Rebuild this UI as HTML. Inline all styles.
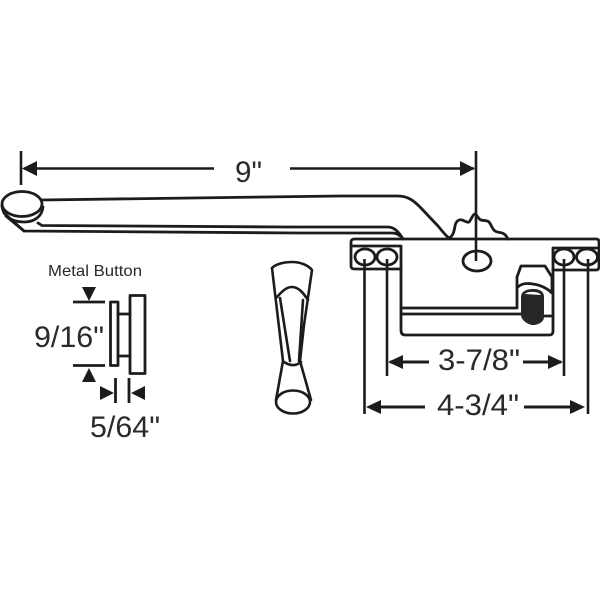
<!DOCTYPE html>
<html><head><meta charset="utf-8"><style>html,body{margin:0;padding:0;background:#fff}svg{display:block}text{font-family:"Liberation Sans",sans-serif;fill:#2a2a2a}</style></head>
<body>
<svg width="600" height="600" viewBox="0 0 600 600" fill="none" stroke="#1c1c1c" stroke-width="2.8" stroke-linecap="round" stroke-linejoin="round">
<!-- 9in dimension -->
<path d="M21 151V185M476 151V261M24 168.5H214M290 168.5H474" stroke-width="2.600" stroke-linecap="butt"/>
<path d="M22 168.5L37 161V176Z M475 168.5L460 161V176Z" fill="#1c1c1c" stroke="none"/>
<text x="235" y="182" font-size="30" stroke="none" textLength="27" lengthAdjust="spacingAndGlyphs">9"</text>
<!-- arm -->
<path d="M41 200L340 196H398C408 196 414 201 420 207L438 226C443 232 446 236 449 238"/>
<path d="M38 223L42 225.500L288 227H388C394 227 399 232 403 239" />
<path d="M6 216L24 231L300 233H392C398 233 401 236 403 239"/>
<!-- button -->
<ellipse cx="22" cy="204" rx="20" ry="12.500" fill="#fff"/>
<path d="M2 206C3 215 10 222 24 222C35 222 42 216 43 207"/>
<path d="M2 206L4 213L24 231"/>
<!-- gear -->
<path d="M449 238C453 236 454 232 455 226C456 221 459 219 462 220C465 221 467 223 469 222C471 220 473 214 475 214C477 214 478 219 481 220C484 221 487 220 489 222C491 224 492 229 495 231C498 233 502 232 504 234C506 235 507 237 508 239"/>
<!-- plate -->
<path d="M355 239H596C598 239 599 240 599 242V266C599 269 598 270 596 270H553V330C553 334 552 335 549 335H405C402 335 401 333 401 330V269H355C352 269 351 268 351 266V242C351 240 352 239 355 239Z" stroke-width="2.800"/>
<path d="M352 246H401V269M553 248H598M553 248V270"/>
<ellipse cx="365" cy="257" rx="10" ry="8"/>
<ellipse cx="387" cy="257" rx="10" ry="8"/>
<ellipse cx="564" cy="257" rx="10" ry="8"/>
<ellipse cx="587" cy="257" rx="10.500" ry="8"/>
<ellipse cx="477" cy="261" rx="14" ry="10"/>
<!-- inner slot -->
<path d="M401 308H517V277L521 266H545L552 277V290M401 314H522M517 288C521 283 527 283 533 284C541 285 548 289 552 293M544 316H553"/>
<path d="M521 297C521 291 527 289 533 289C539 289 544 291 544 297V317C544 322 538 325 533 325C528 325 521 320 521 315Z" fill="#262626" stroke="none"/>
<path d="M525 294C527 291 539 291 541 295Z" fill="#fff" stroke="none"/>
<!-- extension lines -->
<path d="M364.500 259V414M387 259V376M564 259V376M588 259V414" stroke-width="2.600" stroke-linecap="butt"/>
<!-- 3-7/8 -->
<path d="M390 362H429M523 362H561M369 407H425M524 407H582" stroke-width="3" stroke-linecap="butt"/>
<path d="M388 362L403 355V369Z M563 362L548 355V369Z M366 407L381 400V414Z M585 407L570 400V414Z" fill="#1c1c1c" stroke="none"/>
<text x="438" y="370" font-size="30" stroke="none" textLength="82" lengthAdjust="spacingAndGlyphs">3-7/8"</text>
<text x="437" y="415" font-size="30" stroke="none" textLength="82" lengthAdjust="spacingAndGlyphs">4-3/4"</text>
<!-- metal button -->
<text x="48" y="276" font-size="16" stroke="none" textLength="94" lengthAdjust="spacingAndGlyphs">Metal Button</text>
<path d="M73 302H105M73 365.500H105" stroke-linecap="butt"/>
<path d="M82 287H96L89 301Z M89 368L96 382H82Z" fill="#1c1c1c" stroke="none"/>
<text x="34" y="347" font-size="30" stroke="none" textLength="70" lengthAdjust="spacingAndGlyphs">9/16"</text>
<rect x="110.500" y="302" width="7.500" height="63.500"/>
<rect x="130" y="295.500" width="15" height="78"/>
<path d="M118 314H130M118 356H130"/>
<path d="M115.500 378V403M129 378V403" stroke-linecap="butt"/>
<path d="M100 386V400L114 393Z M145 386V400L131 393Z" fill="#1c1c1c" stroke="none"/>
<text x="90" y="437" font-size="30" stroke="none" textLength="70" lengthAdjust="spacingAndGlyphs">5/64"</text>
<!-- handle -->
<g stroke-width="2.600">
<path d="M272 268C276 264 284 262 292 262C300 262 308 265 312 270L304 325L300 361L311 400"/>
<path d="M272 268L283 361L276 400"/>
<path d="M276 298C280 294 285 287 292 287C299 287 304 294 308 300"/>
<path d="M280 298L290 361M303 300L299 361"/>
<path d="M284 362C290 366 296 366 301 362"/>
<ellipse cx="293" cy="402" rx="17" ry="11.500"/>
</g>
</svg>
</body></html>
